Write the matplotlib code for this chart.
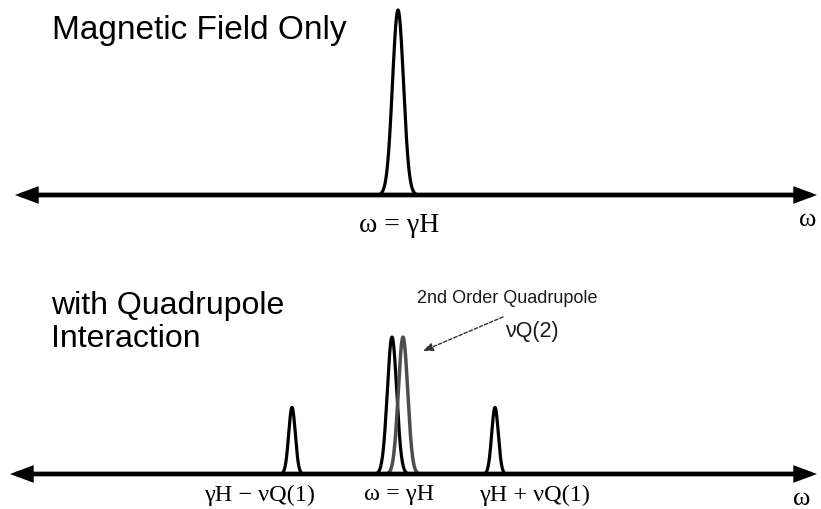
import numpy as np
import matplotlib.pyplot as plt

# --- spectrum parameters (omega measured from the Larmor line, arbitrary units) ---
top_center = 0.0
top_height = 1.0
top_width = 0.055

# first-order satellites, central line, and second-order shifted line
bot_centers = [-1.06, -0.06, 0.05, 0.97]
bot_heights = [0.36, 0.74, 0.74, 0.36]
bot_widths = [0.033, 0.047, 0.047, 0.033]
bot_colors = ['black', 'black', '#4d4d4d', 'black']

bot_labels = ['γH − νQ(1)', 'ω = γH', 'γH + νQ(1)']
bot_label_x = [-1.38, 0.01, 1.37]

W, H = 821, 510
PX_X = 100.0   # pixels per omega unit
PX_Y = 185.0   # pixels per intensity unit
X0 = 398       # pixel column of omega = gamma*H
XLIM = (-X0 / PX_X, (W - X0) / PX_X)

SERIF = 'Liberation Serif'
SANS = 'Liberation Sans'


def gauss(x, c, h, s):
    return h * np.exp(-0.5 * ((x - c) / s) ** 2)


def make_axes(fig, base_px, ylo, yhi):
    # place an axes so that y=0 lands on the pixel row base_px
    top_px = base_px - yhi * PX_Y
    bot_px = base_px - ylo * PX_Y
    ax = fig.add_axes([0, (H - bot_px) / H, 1, (bot_px - top_px) / H])
    ax.set_xlim(*XLIM)
    ax.set_ylim(ylo, yhi)
    ax.axis('off')
    return ax


def draw_axis(ax, x_left, x_right):
    ax.annotate('', xy=(x_right, 0), xytext=(x_left, 0),
                arrowprops=dict(arrowstyle='<|-|>,head_length=0.75,head_width=0.28',
                                lw=3.4, color='black', mutation_scale=14,
                                shrinkA=0, shrinkB=0, joinstyle='miter'))


def draw_peak(ax, c, h, s, color, lw=2.3):
    x = np.linspace(c - 3.3 * s, c + 3.3 * s, 200)
    ax.plot(x, gauss(x, c, h, s), color=color, lw=lw, solid_capstyle='round')


fig = plt.figure(figsize=(W / 100, H / 100), dpi=100)

# top panel: magnetic field only
ax1 = make_axes(fig, 196, -0.35, 1.05)
draw_axis(ax1, -3.83, 4.19)
draw_peak(ax1, top_center, top_height, top_width, 'black')
ax1.text(0.01, -0.157, 'ω = γH', family=SERIF, fontsize=20, ha='center', va='center')
ax1.text(4.10, -0.13, 'ω', family=SERIF, fontsize=19, ha='center', va='center')

# bottom panel: with quadrupole interaction
ax2 = make_axes(fig, 475, -0.18, 1.0)
draw_axis(ax2, -3.88, 4.19)
for c, h, s, col in zip(bot_centers, bot_heights, bot_widths, bot_colors):
    draw_peak(ax2, c, h, s, col, lw=2.5 if col != 'black' else 2.3)
for lab, x in zip(bot_labels, bot_label_x):
    ax2.text(x, -0.108, lab, family=SERIF, fontsize=17.5, ha='center', va='center')
ax2.text(4.04, -0.13, 'ω', family=SERIF, fontsize=19, ha='center', va='center')

ax2.text(0.19, 0.93, '2nd Order Quadrupole', family=SANS, fontsize=13,
         ha='left', va='baseline', color='#1a1a1a')
ax2.text(1.07, 0.746, 'νQ(2)', family=SANS, fontsize=15.5,
         ha='left', va='baseline', color='#1a1a1a')
ax2.annotate('', xy=(0.25, 0.665), xytext=(1.05, 0.849),
             arrowprops=dict(arrowstyle='-|>,head_length=0.6,head_width=0.25',
                             lw=1.0, color='#333333', linestyle=(0, (2.5, 1.5)),
                             mutation_scale=10, shrinkA=0, shrinkB=0))

# panel titles
fig.text(52 / W, (H - 39) / H, 'Magnetic Field Only', family=SANS, fontsize=24,
         va='baseline', ha='left')
fig.text(51 / W, (H - 314) / H, 'with Quadrupole', family=SANS, fontsize=23,
         va='baseline', ha='left')
fig.text(51 / W, (H - 347) / H, 'Interaction', family=SANS, fontsize=23,
         va='baseline', ha='left')

fig.savefig('out.png', dpi=100)
